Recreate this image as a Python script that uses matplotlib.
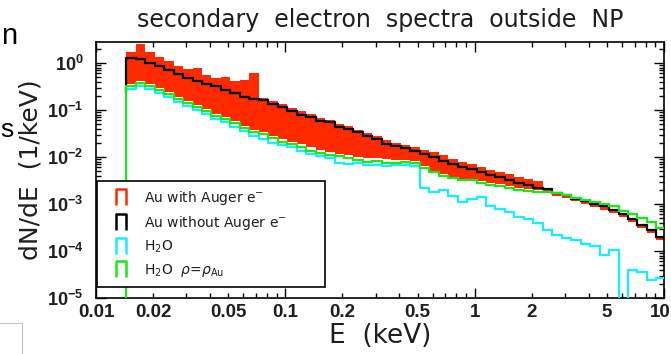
import numpy as np
import matplotlib
matplotlib.use("Agg")
import matplotlib.pyplot as plt
from matplotlib.path import Path
from matplotlib.lines import Line2D
from matplotlib.patches import Rectangle
from matplotlib.transforms import ScaledTranslation

plt.rcParams['font.family'] = ['DejaVu Sans']
plt.rcParams['mathtext.fontset'] = 'custom'
plt.rcParams['mathtext.rm'] = 'DejaVu Sans'
plt.rcParams['mathtext.it'] = 'DejaVu Sans:italic'
plt.rcParams['mathtext.bf'] = 'Liberation Sans:bold'

# histogram bin edges in keV (20 log bins per decade)
energy_edges = [0.01445, 0.01622, 0.01820, 0.02042, 0.02291, 0.02570, 0.02884, 0.03236,
                0.03631, 0.04074, 0.04571, 0.05129, 0.05754, 0.06457, 0.07244, 0.08128,
                0.09120, 0.1023, 0.1148, 0.1288, 0.1445, 0.1622, 0.1820, 0.2042, 0.2291,
                0.2570, 0.2884, 0.3236, 0.3631, 0.4074, 0.4571, 0.5129, 0.5754, 0.6457,
                0.7244, 0.8128, 0.9120, 1.023, 1.148, 1.288, 1.445, 1.622, 1.820, 2.042,
                2.291, 2.570, 2.884, 3.236, 3.631, 4.074, 4.571, 5.129, 5.754, 6.457,
                7.244, 8.128, 9.120, 10.23]

# Au with Auger electrons: fluctuating spectrum shown as a band (upper / lower envelope)
au_auger_high = [1.71, 2.54, 1.71, 1.34, 1.10, 0.863, 0.745, 0.783, 0.556, 0.480,
                 0.504, 0.414, 0.435, 0.612, 0.180, 0.155, 0.134, 0.110, 0.0953, 0.0822,
                 0.0676, 0.0612, 0.0504, 0.0457, 0.0375, 0.0324, 0.0280, 0.0230, 0.0199, 0.0180,
                 0.0163, 0.0141, 0.0128, 0.0110, 0.00906, 0.00783, 0.00709, 0.00612, 0.00529, 0.00480,
                 0.00435, 0.00375, 0.00340, 0.00309, 0.00208, 0.00180, 0.00163, 0.00141, 0.00122, 0.00105,
                 9.06e-4, 7.83e-4, 6.44e-4, 5.04e-4, 3.75e-4, 2.94e-4, 2.08e-4]
au_auger_low = [0.357, 0.414, 0.357, 0.294, 0.242, 0.189, 0.155, 0.128, 0.105, 0.0822,
                0.0709, 0.0583, 0.0457, 0.0375, 0.0340, 0.0280, 0.0242, 0.0208, 0.0189, 0.0163,
                0.0141, 0.0128, 0.0116, 0.0110, 0.0100, 0.00953, 0.00953, 0.00906, 0.00863, 0.00863,
                0.00822, 0.00644, 0.00504, 0.00435, 0.00375, 0.00340, 0.00340, 0.00309, 0.00280, 0.00267,
                0.00242, 0.00219, 0.00208, 0.00199, 0.00171, 0.00148, 0.00134, 0.00116, 0.00100, 8.63e-4,
                7.45e-4, 6.44e-4, 5.29e-4, 4.14e-4, 3.09e-4, 2.42e-4, 1.71e-4]

# Au without Auger electrons
au_no_auger = [1.28, 1.22, 1.00, 0.863, 0.709, 0.583, 0.480, 0.414, 0.357, 0.324,
               0.267, 0.230, 0.189, 0.171, 0.163, 0.134, 0.116, 0.0953, 0.0783, 0.0709,
               0.0583, 0.0556, 0.0435, 0.0394, 0.0340, 0.0280, 0.0242, 0.0189, 0.0171, 0.0155,
               0.0134, 0.0116, 0.0100, 0.00822, 0.00709, 0.00612, 0.00556, 0.00480, 0.00414, 0.00375,
               0.00324, 0.00280, 0.00254, 0.00219, 0.00208, 0.00171, 0.00155, 0.00128, 0.00116, 0.00100,
               9.06e-4, 7.45e-4, 6.12e-4, 4.80e-4, 3.57e-4, 2.80e-4, 1.99e-4]
au_no_auger_start = 0.23

# water
water = [0.280, 0.324, 0.280, 0.230, 0.189, 0.148, 0.122, 0.100, 0.0822, 0.0644,
         0.0556, 0.0435, 0.0357, 0.0280, 0.0242, 0.0199, 0.0180, 0.0163, 0.0134, 0.0116,
         0.0105, 0.00953, 0.00745, 0.00709, 0.00745, 0.00676, 0.00676, 0.00644, 0.00676, 0.00676,
         0.00644, 0.00219, 0.00180, 0.00199, 0.00148, 0.00110, 0.00128, 0.00141, 9.06e-4, 7.83e-4,
         6.76e-4, 5.29e-4, 4.80e-4, 3.94e-4, 2.80e-4, 2.19e-4, 1.89e-4, 1.71e-4, 1.41e-4, 1.28e-4,
         8.22e-5, 1.05e-4, 0.0, 3.94e-5, 3.57e-5, 2.42e-5, 2.67e-5]

# water with gold density
water_dense = [0.324, 0.375, 0.324, 0.267, 0.219, 0.171, 0.141, 0.116, 0.0953, 0.0745,
               0.0644, 0.0529, 0.0414, 0.0340, 0.0309, 0.0254, 0.0208, 0.0189, 0.0163, 0.0134,
               0.0122, 0.0110, 0.0105, 0.00953, 0.00863, 0.00783, 0.00822, 0.00745, 0.00745, 0.00783,
               0.00745, 0.00583, 0.00480, 0.00394, 0.00357, 0.00324, 0.00324, 0.00280, 0.00254, 0.00242,
               0.00219, 0.00199, 0.00189, 0.00180, 0.00180, 0.00171, 0.00155, 0.00134, 0.00122, 0.00110,
               0.00100, 9.06e-4, 7.09e-4, 6.12e-4, 5.04e-4, 4.14e-4, 3.09e-4]

series_labels = [r"Au with Auger e$^{-}$", r"Au without Auger e$^{-}$",
                 r"H$_2$O", r"H$_2$O  $\rho$=$\rho_{\rm Au}$"]

x_major = [0.01, 0.1, 1, 10]
x_major_labels = ["0.01", "0.1", "1", "10"]
x_minor = [0.02, 0.03, 0.04, 0.05, 0.06, 0.07, 0.08, 0.09,
           0.2, 0.3, 0.4, 0.5, 0.6, 0.7, 0.8, 0.9,
           2, 3, 4, 5, 6, 7, 8, 9]
x_minor_shown = {0.02: "0.02", 0.05: "0.05", 0.2: "0.2", 0.5: "0.5", 2: "2", 5: "5"}
y_major = [1e-5, 1e-4, 1e-3, 1e-2, 1e-1, 1e0]
y_major_labels = [r"$\mathbf{10^{-5}}$", r"$\mathbf{10^{-4}}$", r"$\mathbf{10^{-3}}$",
                  r"$\mathbf{10^{-2}}$", r"$\mathbf{10^{-1}}$", r"$\mathbf{10^{0}}$"]

RED = "#ff2a00"
CYAN = "#14f0ff"
GREEN = "#18e818"
TEXT = "#1e1e1e"

fig = plt.figure(figsize=(6.71, 3.54), dpi=100)
ax = fig.add_axes([96 / 671, 1 - 298 / 354, 568 / 671, 256 / 354])

edges = np.array(energy_edges)
ax.stairs(au_auger_high, edges, baseline=au_auger_low, fill=True,
          color=RED, lw=0, zorder=1)
ax.stairs(au_no_auger, edges, baseline=au_no_auger_start, color="black", lw=1.6, zorder=2)
ax.stairs(np.maximum(np.array(water), 1e-9), edges, baseline=None, color=CYAN, lw=1.6, zorder=3)
ax.stairs(water_dense, edges, baseline=1e-9, color=GREEN, lw=1.6, zorder=4)

ax.set_xscale("log")
ax.set_yscale("log")
ax.set_xlim(0.01, 10)
ax.set_ylim(1e-5, 2.8)

ax.set_xticks(x_major, x_major_labels)
ax.set_xticks(x_minor, [x_minor_shown.get(v, "") for v in x_minor], minor=True)
ax.set_yticks(y_major, y_major_labels)
ax.yaxis.set_minor_locator(matplotlib.ticker.LogLocator(base=10, subs=np.arange(2, 10), numticks=20))
ax.yaxis.set_minor_formatter(matplotlib.ticker.NullFormatter())

ax.tick_params(which="both", direction="in", top=True, right=True, width=1.0,
               colors="black", labelcolor=TEXT)
ax.tick_params(axis="x", which="both", labelsize=13.5, pad=4)
ax.tick_params(axis="y", which="both", labelsize=13, pad=9)
ax.tick_params(which="major", length=7)
ax.tick_params(which="minor", length=3.5)
for lab in ax.get_xticklabels(which="both"):
    lab.set_fontweight("bold")
    lab.set_fontfamily("Liberation Sans")
# keep the last energy label inside the canvas
last = ax.get_xticklabels()[-1]
last.set_transform(last.get_transform() + ScaledTranslation(-4 / 100, 0, fig.dpi_scale_trans))
for sp in ax.spines.values():
    sp.set_linewidth(1.2)

ax.set_title("secondary  electron  spectra  outside  NP", fontsize=17, pad=11, color=TEXT)
ax.set_xlabel("E  (keV)", fontsize=19, labelpad=2, color=TEXT)
ax.set_ylabel("dN/dE  (1/keV)", fontsize=18, color=TEXT)
ax.yaxis.set_label_coords(-0.094, 0.5)

bracket = Path([(-0.6, -1), (-0.6, 1), (0.6, 1), (0.6, -1)],
               [Path.MOVETO, Path.LINETO, Path.LINETO, Path.LINETO])
handles = [Line2D([], [], linestyle="none", marker=bracket, markersize=11,
                  markerfacecolor="none", markeredgecolor=c, markeredgewidth=1.8)
           for c in (RED, "black", CYAN, GREEN)]
leg = ax.legend(handles, series_labels, loc="lower left",
                bbox_to_anchor=(0.002, 0.043, 0.401, 0.4), mode="expand",
                borderaxespad=0, fontsize=10, handlelength=2.4, handletextpad=0.4,
                labelspacing=0.5, borderpad=0.55, fancybox=False, framealpha=1,
                edgecolor="black")
leg.get_frame().set_linewidth(1.2)
for t in leg.get_texts():
    t.set_color(TEXT)

# surrounding slide elements
fig.text(0.002, 1 - 44 / 354, "n", fontsize=21, family="Liberation Sans", va="baseline")
fig.text(0.001, 1 - 137 / 354, "s", fontsize=19, family="Liberation Sans", va="baseline")
fig.patches.append(Rectangle((-0.05, -0.05), 22 / 671 + 0.05, 31 / 354 + 0.05,
                             transform=fig.transFigure, fill=False,
                             edgecolor="#c4c4c4", lw=0.8))

fig.savefig("out.png", dpi=100)
